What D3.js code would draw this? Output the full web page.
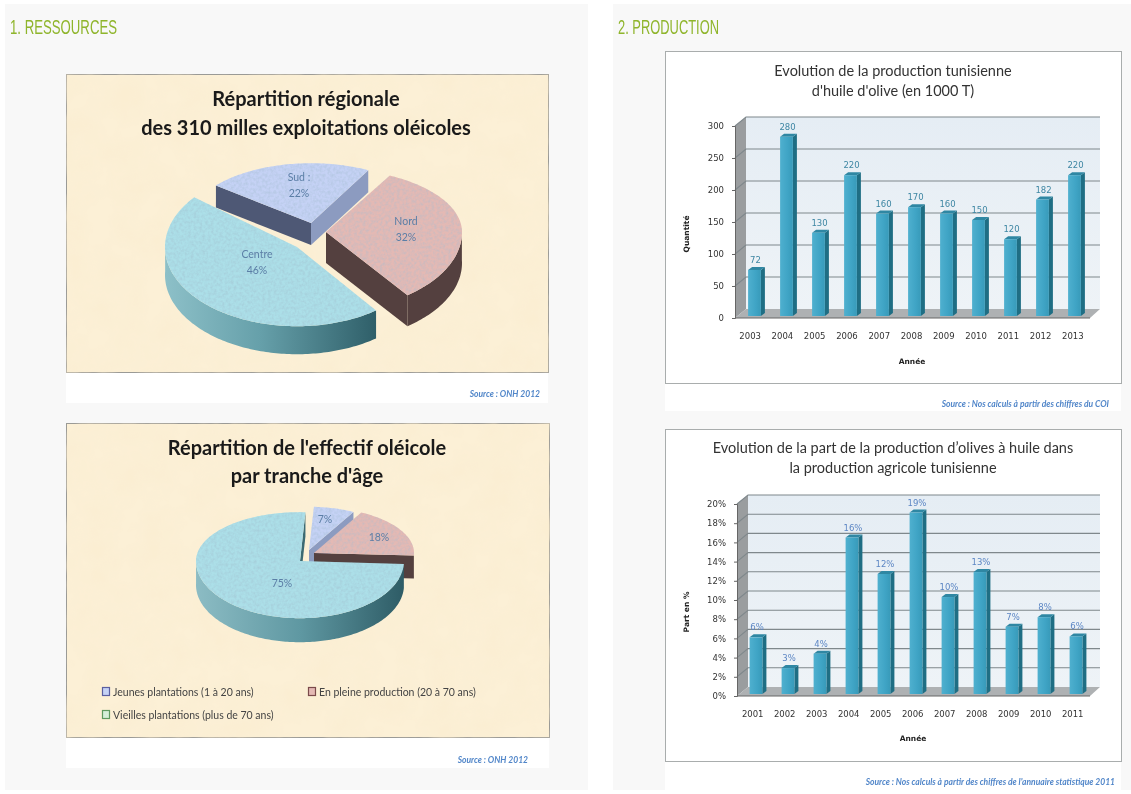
<!DOCTYPE html>
<html>
<head>
<meta charset="utf-8">
<script src="https://cdn.jsdelivr.net/npm/d3@7"></script>
<style>
  html, body { margin: 0; padding: 0; background: #fff; }
  svg { display: block; filter: blur(0.3px); }
</style>
</head>
<body>
<svg id="viz" width="1131" height="794">
  <defs>
    <filter id="parch" x="0" y="0" width="1" height="1">
      <feTurbulence type="fractalNoise" baseFrequency="0.035" numOctaves="3" seed="4" result="n"/>
      <feColorMatrix in="n" type="matrix" values="0 0 0 0 0.96  0 0 0 0 0.84  0 0 0 0 0.62  0.9 0 0 0 -0.3" result="c"/>
      <feComposite in="c" in2="SourceGraphic" operator="in" result="t"/>
      <feMerge><feMergeNode in="SourceGraphic"/><feMergeNode in="t"/></feMerge>
    </filter>
    <filter id="speck" x="0" y="0" width="1" height="1">
      <feTurbulence type="fractalNoise" baseFrequency="0.35" numOctaves="2" seed="9" result="n"/>
      <feColorMatrix in="n" type="matrix" values="0 0 0 0 0.35  0 0 0 0 0.5  0 0 0 0 0.6  0.9 0 0 0 -0.32" result="c"/>
      <feComposite in="c" in2="SourceGraphic" operator="in" result="t"/>
      <feMerge><feMergeNode in="SourceGraphic"/><feMergeNode in="t"/></feMerge>
    </filter>
  </defs>
</svg>
<script>
// regional split
var regionNames = ["Nord", "Centre", "Sud :"];
var regionShares = [32, 46, 22];

// age split
var ageNames = ["Jeunes plantations  (1 à 20 ans)", "En pleine production (20 à 70 ans)", "Vieilles plantations  (plus de 70 ans)"];
var ageShares = [7, 18, 75];

// oil production, 1000 T
var prodYears = ["2003", "2004", "2005", "2006", "2007", "2008", "2009", "2010", "2011", "2012", "2013"];
var prodValues = [72, 280, 130, 220, 160, 170, 160, 150, 120, 182, 220];

// olive share of farm output, %
var shareYears = ["2001", "2002", "2003", "2004", "2005", "2006", "2007", "2008", "2009", "2010", "2011"];
var shareValues = [5.9, 2.7, 4.2, 16.3, 12.5, 18.9, 10.1, 12.7, 7, 8, 6];
var shareLabels = ["6%", "3%", "4%", "16%", "12%", "19%", "10%", "13%", "7%", "8%", "6%"];

var svg = d3.select("#viz");
var defs = svg.select("defs");

var TITLE_FONT = "Lato, sans-serif";
var TICK_FONT = "'DejaVu Sans', sans-serif";

// page blocks
svg.append("rect").attr("x", 5).attr("y", 4).attr("width", 583).attr("height", 786).attr("fill", "#f8f8f8");
svg.append("rect").attr("x", 613).attr("y", 4).attr("width", 518).attr("height", 786).attr("fill", "#f8f8f8");

function heading(x, y, w, txt) {
  svg.append("text")
    .attr("x", x).attr("y", y)
    .attr("textLength", w).attr("lengthAdjust", "spacingAndGlyphs")
    .attr("font-family", "'Liberation Sans Narrow', 'Liberation Sans', sans-serif")
    .attr("font-size", 21)
    .attr("fill", "#8fb52c")
    .text(txt);
}
heading(10, 34, 107, "1. RESSOURCES");
heading(618, 34, 101, "2. PRODUCTION");

function sourceNote(x, y, w, h, endX, baseY, txt) {
  svg.append("rect").attr("x", x).attr("y", y).attr("width", w).attr("height", h).attr("fill", "#fff");
  svg.append("text")
    .attr("x", endX).attr("y", baseY)
    .attr("text-anchor", "end")
    .attr("font-family", TITLE_FONT)
    .attr("font-style", "italic").attr("font-weight", 700)
    .attr("font-size", 8.5)
    .attr("fill", "#5186c9")
    .text(txt);
}

function panel(x, y, w, h, fill, stroke, filter) {
  var r = svg.append("rect").attr("x", x + 0.5).attr("y", y + 0.5).attr("width", w).attr("height", h)
    .attr("fill", fill).attr("stroke", stroke);
  if (filter) r.attr("filter", filter);
}

function titleLines(cx, ys, lines, size, weight, color) {
  lines.forEach(function (t, i) {
    svg.append("text")
      .attr("x", cx).attr("y", ys[i])
      .attr("text-anchor", "middle")
      .attr("font-family", TITLE_FONT)
      .attr("font-weight", weight)
      .attr("font-size", size)
      .attr("fill", color)
      .text(t);
  });
}

function wallGradient(id, stops) {
  var g = defs.append("linearGradient").attr("id", id).attr("x1", 0).attr("x2", 1).attr("y1", 0).attr("y2", 0);
  stops.forEach(function (s) {
    g.append("stop").attr("offset", s[0]).attr("stop-color", s[1]);
  });
}

// tilted pie: d3.pie gives the angles, every slice has its own explode offset and squash
function drawPie(names, values, startDeg, look) {
  var pie = d3.pie().sort(null).value(function (d) { return d; })
    .startAngle(startDeg * Math.PI / 180)
    .endAngle((startDeg + 360) * Math.PI / 180);
  var arcs = pie(values);
  var line = d3.line().x(function (d) { return d[0]; }).y(function (d) { return d[1]; });

  look.order.forEach(function (i) {
    var a = arcs[i], s = look.slices[i];
    var g = svg.append("g").attr("transform", "translate(" + s.cx + "," + s.cy + ")");

    function pt(ang, drop) {
      var c = Math.cos(ang);
      return [s.r * Math.sin(ang), -s.r * c * (c > 0 ? s.kTop : s.kBot) + (drop || 0)];
    }
    var angs = d3.range(a.startAngle, a.endAngle, 0.02).concat([a.endAngle]);

    // radial walls, only those facing the viewer
    if (Math.sin(a.startAngle) < 0) {
      var p0 = pt(a.startAngle);
      g.append("path").attr("fill", s.wallStart)
        .attr("d", line([[0, 0], p0, [p0[0], p0[1] + s.depth], [0, s.depth]]) + "Z");
    }
    if (Math.sin(a.endAngle) > 0) {
      var p1 = pt(a.endAngle);
      g.append("path").attr("fill", s.wallEnd)
        .attr("d", line([[0, 0], p1, [p1[0], p1[1] + s.depth], [0, s.depth]]) + "Z");
    }

    // outer wall
    var front = angs.filter(function (t) { return Math.cos(t) < 0.05; });
    if (front.length) {
      var topEdge = front.map(function (t) { return pt(t); });
      var lowEdge = front.map(function (t) { return pt(t, s.depth); }).reverse();
      g.append("path").attr("fill", s.wallOuter).attr("d", line(topEdge.concat(lowEdge)) + "Z");
    }

    // top face
    var top = [[0, 0]].concat(angs.map(function (t) { return pt(t); }));
    g.append("path").attr("fill", s.top).attr("filter", "url(#speck)").attr("d", line(top) + "Z");
  });

  arcs.forEach(function (a, i) {
    var s = look.slices[i];
    var rows = s.showName ? [names[i], values[i] + "%"] : [values[i] + "%"];
    rows.forEach(function (t, k) {
      svg.append("text")
        .attr("x", s.lx).attr("y", s.ly + k * 16)
        .attr("text-anchor", "middle")
        .attr("font-family", TITLE_FONT)
        .attr("font-size", 10.5)
        .attr("fill", "#5b7ea6")
        .text(t);
    });
  });
}

wallGradient("wallCentre", [[0, "#8dc0c8"], [0.45, "#66a0aa"], [1, "#2f5f69"]]);
wallGradient("wallBig", [[0, "#8cbcc4"], [0.5, "#5f98a2"], [1, "#2e5c66"]]);

// left column, top
panel(66, 74, 482, 298, "#fcf0d6", "#9a9a96", "url(#parch)");
titleLines(306, [106, 135], ["Répartition régionale", "des 310 milles exploitations oléicoles"], 20, 700, "#1a1a1a");
drawPie(regionNames, regionShares, 28, {
  order: [2, 0, 1],
  slices: [
    { cx: 326, cy: 232, r: 136, kTop: 0.47, kBot: 0.58, depth: 31, top: "#e4b9b4", wallOuter: "#54403f", wallStart: "#54403f", wallEnd: "#54403f", lx: 406, ly: 225, showName: true },
    { cx: 297, cy: 247, r: 132, kTop: 0.6, kBot: 0.6, depth: 28, top: "#acdfe8", wallOuter: "url(#wallCentre)", wallStart: "#3b6a73", wallEnd: "#3b6a73", lx: 257, ly: 258, showName: true },
    { cx: 311, cy: 223, r: 122, kTop: 0.49, kBot: 0.49, depth: 22, top: "#c5d2f5", wallOuter: "#8c9bc0", wallStart: "#4e5875", wallEnd: "#8c9bc0", lx: 299, ly: 181, showName: true }
  ]
});
sourceNote(66, 373, 482, 30, 540, 397, "Source : ONH 2012");

// left column, bottom
panel(66, 423, 483, 314, "#fcf0d6", "#9a9a96", "url(#parch)");
titleLines(307, [455, 483], ["Répartition de l'effectif oléicole", "par tranche d'âge"], 20, 700, "#1a1a1a");
drawPie(ageNames, ageShares, 3, {
  order: [0, 1, 2],
  slices: [
    { cx: 309, cy: 550, r: 94, kTop: 0.46, kBot: 0.46, depth: 22, top: "#c5d2f5", wallOuter: "#8c9bc0", wallStart: "#8c9bc0", wallEnd: "#8c9bc0", lx: 325, ly: 523 },
    { cx: 314, cy: 553, r: 100, kTop: 0.46, kBot: 0.46, depth: 23, top: "#e4b9b4", wallOuter: "#54403f", wallStart: "#54403f", wallEnd: "#54403f", lx: 379, ly: 541 },
    { cx: 300, cy: 561, r: 104, kTop: 0.47, kBot: 0.55, depth: 24, top: "#acdfe8", wallOuter: "url(#wallBig)", wallStart: "#3b6a73", wallEnd: "#3b6a73", lx: 282, ly: 587 }
  ]
});

// legend of the age pie
var legendSpots = [[102, 692], [308, 692], [102, 715]];
var legendFill = ["#c5d2f5", "#e4b9b4", "#d5efd9"];
var legendEdge = ["#5b5fa0", "#7a4a4a", "#5f9a5f"];
ageNames.forEach(function (t, i) {
  svg.append("rect")
    .attr("x", legendSpots[i][0] + 0.5).attr("y", legendSpots[i][1] - 4.5)
    .attr("width", 7).attr("height", 8)
    .attr("fill", legendFill[i]).attr("stroke", legendEdge[i]).attr("stroke-width", 1.2);
  svg.append("text")
    .attr("x", legendSpots[i][0] + 11).attr("y", legendSpots[i][1] + 4)
    .attr("font-family", TITLE_FONT)
    .attr("font-size", 10.5)
    .attr("fill", "#444")
    .text(t);
});
sourceNote(66, 738, 483, 30, 528, 763, "Source : ONH 2012");

// 3d looking column chart
function drawBars(o) {
  var dx = 11, dy = -9, lift = 2;
  panel(o.x, o.y, 456, 332, "#fff", "#a9adad");
  titleLines(893, o.titleY, o.title, 14.5, 400, "#333");

  var y = d3.scaleLinear().domain(o.domain).range([o.baseY, o.baseY - 192]);
  var left = o.axisX, right = 1090;

  var wall = d3.select(o.gradId ? null : null);
  var g = svg.append("g");

  // back wall, side wall, floor
  g.append("rect")
    .attr("x", left + dx).attr("y", y(o.domain[1]) + dy)
    .attr("width", 1100 - left - dx).attr("height", 192)
    .attr("fill", "url(#backWall)");
  g.append("path").attr("fill", "#9a9d9f")
    .attr("d", d3.line()([[left, y(o.domain[1])], [left + dx, y(o.domain[1]) + dy], [left + dx, y(0) + dy], [left, y(0)]]) + "Z");
  g.append("path").attr("fill", "#aeb1b3")
    .attr("d", d3.line()([[left, y(0)], [left + dx, y(0) + dy], [1100, y(0) + dy], [right, y(0)]]) + "Z");

  // gridlines on the wall
  g.selectAll(".grid").data(y.ticks(o.ticks).filter(function (d) { return d > 0; }))
    .enter().append("path")
    .attr("fill", "none").attr("stroke", "#7f888c").attr("stroke-width", 1.1)
    .attr("d", function (d) {
      return d3.line()([[left, y(d)], [left + dx, y(d) + dy], [1100, y(d) + dy]]);
    });

  // axes
  var yAxis = d3.axisLeft(y).ticks(o.ticks).tickSize(3).tickPadding(8).tickFormat(o.tickFormat);
  var ay = svg.append("g").attr("transform", "translate(" + left + ",0)").call(yAxis);
  ay.selectAll("text").attr("font-family", TICK_FONT).attr("font-size", 8.5).attr("fill", "#333");
  ay.selectAll("line,path").attr("stroke", "#666");

  var xTicks = d3.scaleBand().domain(o.years).range(o.tickRange);
  var xAxis = d3.axisBottom(xTicks).tickSize(0).tickPadding(15);
  var ax = svg.append("g").attr("transform", "translate(0," + y(0) + ")").call(xAxis);
  ax.selectAll("text").attr("font-family", TICK_FONT).attr("font-size", 8.5).attr("fill", "#333");
  ax.select("path").remove();
  svg.append("path").attr("stroke", "#666").attr("d", d3.line()([[left, y(0)], [right, y(0)]]));

  // bars
  var x = d3.scaleBand().domain(o.years).range(o.barRange).paddingInner(0.6).paddingOuter(0.3);
  var bw = x.bandwidth(), bx = 4, by = -3;
  var bars = svg.selectAll(".bar" + o.x + o.y).data(o.values).enter().append("g");

  bars.append("path").attr("fill", "#1f6e84")
    .attr("d", function (d, i) {
      var x0 = x(o.years[i]) + bw, top = y(d) - lift;
      return d3.line()([[x0, top], [x0 + bx, top + by], [x0 + bx, y(0) - lift + by], [x0, y(0) - lift]]) + "Z";
    });
  bars.append("path").attr("fill", "#2f87a3")
    .attr("d", function (d, i) {
      var x0 = x(o.years[i]), top = y(d) - lift;
      return d3.line()([[x0, top], [x0 + bx, top + by], [x0 + bw + bx, top + by], [x0 + bw, top]]) + "Z";
    });
  bars.append("rect").attr("fill", "url(#barFront)")
    .attr("x", function (d, i) { return x(o.years[i]); })
    .attr("y", function (d) { return y(d) - lift; })
    .attr("width", bw)
    .attr("height", function (d) { return y(0) - y(d); });
  bars.append("text")
    .attr("x", function (d, i) { return x(o.years[i]) + bw / 2 + 1; })
    .attr("y", function (d) { return y(d) - lift - 7; })
    .attr("text-anchor", "middle")
    .attr("font-family", TICK_FONT)
    .attr("font-size", 8.5)
    .attr("font-weight", o.labelWeight)
    .attr("fill", o.labelColor)
    .text(function (d, i) { return o.labels ? o.labels[i] : d; });

  // axis titles
  svg.append("text")
    .attr("transform", "translate(689," + o.yTitleY + ") rotate(-90)")
    .attr("text-anchor", "middle")
    .attr("font-family", TICK_FONT).attr("font-weight", 700).attr("font-size", 7.5).attr("fill", "#222")
    .text(o.yTitle);
  svg.append("text")
    .attr("x", o.xTitleX).attr("y", o.xTitleY)
    .attr("text-anchor", "middle")
    .attr("font-family", TICK_FONT).attr("font-weight", 700).attr("font-size", 7.5).attr("fill", "#222")
    .text("Année");
}

var bw = defs.append("linearGradient").attr("id", "backWall").attr("x1", 0).attr("x2", 0).attr("y1", 0).attr("y2", 1);
bw.append("stop").attr("offset", 0).attr("stop-color", "#e5edf4");
bw.append("stop").attr("offset", 1).attr("stop-color", "#eef3f7");
wallGradient("barFront", [[0, "#4fb0cf"], [0.6, "#3fa4c5"], [1, "#389ab9"]]);

drawBars({
  x: 665, y: 51, baseY: 318, axisX: 735,
  domain: [0, 300], ticks: 6,
  years: prodYears, values: prodValues,
  tickRange: [734, 1089], barRange: [738.5, 1090.5],
  title: ["Evolution de la production tunisienne", "d'huile d'olive (en 1000 T)"], titleY: [76, 96],
  yTitle: "Quantité", yTitleY: 234, xTitleX: 912, xTitleY: 364,
  labelColor: "#3e86a3", labelWeight: 400
});
sourceNote(665, 384, 456, 27, 1109, 407, "Source : Nos calculs à partir des chiffres du COI");

drawBars({
  x: 665, y: 429, baseY: 696, axisX: 737,
  domain: [0, 20], ticks: 10, tickFormat: function (d) { return d + "%"; },
  years: shareYears, values: shareValues, labels: shareLabels,
  tickRange: [736.7, 1088.7], barRange: [740, 1092],
  title: ["Evolution de la part de la production d’olives à huile dans", "la production agricole tunisienne"], titleY: [453, 473],
  yTitle: "Part en %", yTitleY: 612, xTitleX: 913, xTitleY: 741,
  labelColor: "#5c86c4", labelWeight: 400
});
sourceNote(665, 762, 456, 28, 1115, 785, "Source : Nos calculs à partir des chiffres de l'annuaire  statistique 2011");
</script>
</body>
</html>
